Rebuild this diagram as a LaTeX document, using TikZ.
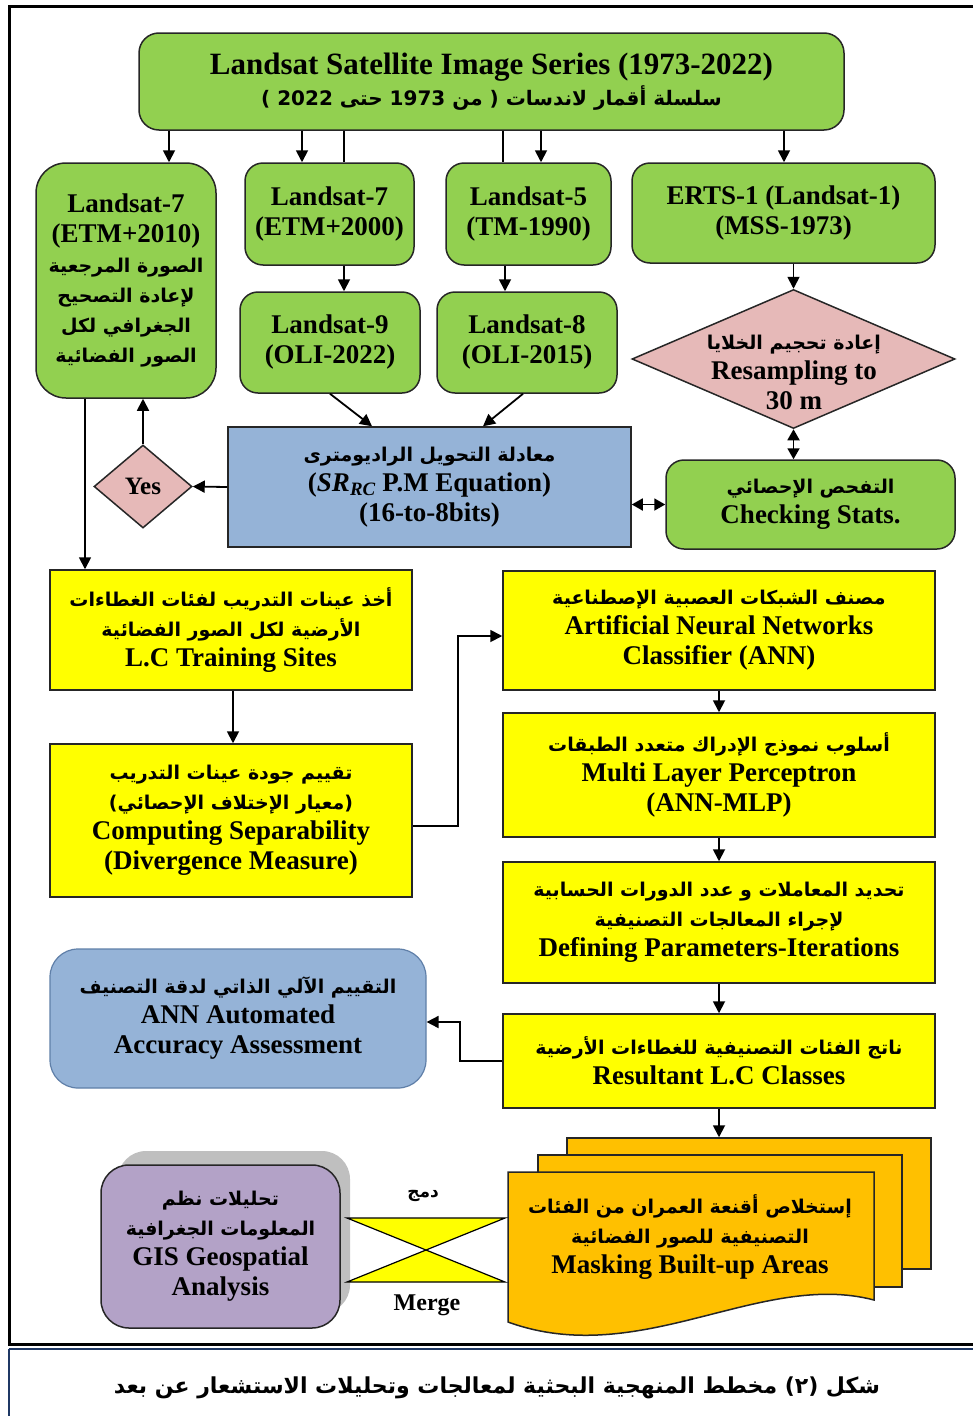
\documentclass[tikz,border=0pt]{standalone}
\usepackage{fontspec}
\usetikzlibrary{shapes.geometric,arrows.meta}
\setmainfont{Liberation Serif}
\newfontfamily\arfont[Script=Arabic]{DejaVu Sans}
\TeXXeTstate=1
\newcommand\AR[1]{{\arfont\bfseries\fontsize{19}{30}\selectfont\beginR #1\endR}}
\newcommand\NUM[1]{\beginL #1\endL{}}
\definecolor{gfill}{HTML}{92D050}
\definecolor{pinkf}{HTML}{E6B9B8}
\definecolor{bluef}{HTML}{95B3D7}
\definecolor{yelf}{HTML}{FFFF00}
\definecolor{orangef}{HTML}{FFC000}
\definecolor{purplef}{HTML}{B3A2C7}
\definecolor{shadowf}{HTML}{BFBFBF}
\definecolor{navyl}{HTML}{1F3864}
\definecolor{accdraw}{HTML}{5F7FA8}
\tikzset{
  every node/.style={align=center, inner sep=0pt, font=\bfseries\fontsize{27}{30}\selectfont},
  bx/.style={draw=black!85, line width=1.5pt},
  gbox/.style={bx, fill=gfill, rounded corners=18pt},
  ybox/.style={bx, fill=yelf},
  dbox/.style={bx, fill=pinkf, diamond},
  sheet/.style={bx, fill=orangef},
  arr/.style={line width=1.8pt, -{Triangle[length=12pt,width=12pt]}},
  darr/.style={line width=1.8pt, {Triangle[length=11pt,width=12pt]}-{Triangle[length=11pt,width=12pt]}},
  ln/.style={line width=1.8pt},
}
\begin{document}
\begin{tikzpicture}[x=1pt,y=-1pt]
\useasboundingbox (0,0) rectangle (972,1416);
% frame
\draw[line width=3pt] (985,6) -- (9,6) -- (9,1344) -- (985,1344);
\draw[line width=2pt, navyl] (9,1349) -- (985,1349);
\draw[line width=1.5pt, navyl] (9,1349) -- (9,1425);
% top
\node[gbox, rounded corners=20pt, minimum width=705, minimum height=97, font=\bfseries\fontsize{31}{31}\selectfont] (top) at (491.5,81.5)
  {Landsat Satellite Image Series (1973-2022)\\ {\arfont\bfseries\fontsize{20}{30}\selectfont\beginR سلسلة أقمار لاندسات ( من \NUM{1973} حتى \NUM{2022} )\endR}};
% row 1
\node[gbox, rounded corners=30pt, minimum width=180, minimum height=235] (left) at (126,280.5)
  {Landsat-7\\(ETM+2010)\\ \AR{الصورة المرجعية}\\ \AR{لإعادة التصحيح}\\ \AR{الجغرافي لكل}\\ \AR{الصور الفضائية}};
\node[gbox, minimum width=169, minimum height=102] (l7b) at (329.5,214) {Landsat-7\\(ETM+2000)};
\node[gbox, minimum width=165, minimum height=102] (l5) at (528.5,214) {Landsat-5\\(TM-1990)};
\node[gbox, minimum width=303, minimum height=100] (erts) at (783.5,213) {ERTS-1 (Landsat-1)\\(MSS-1973)};
% row 2
\node[gbox, minimum width=180, minimum height=101] (l9) at (330,342.5) {Landsat-9\\(OLI-2022)};
\node[gbox, minimum width=180, minimum height=101] (l8) at (527,342.5) {Landsat-8\\(OLI-2015)};
\node[dbox, minimum width=323, minimum height=139] (dia) at (793.5,359) {};
\node (diatext) at (794,372) {\AR{إعادة تحجيم الخلايا}\\Resampling to\\30 m};
% row 3
\node[bx, fill=bluef, minimum width=403, minimum height=120] (blue) at (429.5,487)
  {\AR{معادلة التحويل الراديومترى}\\(\textit{SR\textsubscript{RC}} P.M Equation)\\(16-to-8bits)};
\node[dbox, minimum width=98, minimum height=83, font=\bfseries\fontsize{25}{28}\selectfont] (yes) at (143,486.5) {Yes};
\node[gbox, minimum width=289, minimum height=89] (check) at (810.5,504.5) {\AR{التفحص الإحصائي}\\Checking Stats.};
% left yellow column
\node[ybox, minimum width=362, minimum height=120] (train) at (231,630)
  {\AR{أخذ عينات التدريب لفئات الغطاءات}\\ \AR{الأرضية لكل الصور الفضائية}\\L.C Training Sites};
\node[ybox, minimum width=362, minimum height=153] (sep) at (231,820.5)
  {\AR{تقييم جودة عينات التدريب}\\ \AR{(معيار الإختلاف الإحصائي)}\\Computing Separability\\(Divergence Measure)};
% right yellow column
\node[ybox, minimum width=432, minimum height=119] (ann) at (719,630.5)
  {\AR{مصنف الشبكات العصبية الإصطناعية}\\Artificial Neural Networks\\Classifier (ANN)};
\node[ybox, minimum width=432, minimum height=124] (mlp) at (719,775)
  {\AR{أسلوب نموذج الإدراك متعدد الطبقات}\\Multi Layer Perceptron\\(ANN-MLP)};
\node[ybox, minimum width=432, minimum height=121] (def) at (719,922.5)
  {\AR{تحديد المعاملات و عدد الدورات الحسابية}\\ \AR{لإجراء المعالجات التصنيفية}\\Defining Parameters-Iterations};
\node[ybox, minimum width=432, minimum height=94] (res) at (719,1061)
  {\AR{ناتج الفئات التصنيفية للغطاءات الأرضية}\\Resultant L.C Classes};
\node[draw=accdraw, line width=1.2pt, fill=bluef, rounded corners=28pt, minimum width=376, minimum height=139] (acc) at (238,1018.5)
  {\AR{التقييم الآلي الذاتي لدقة التصنيف}\\ANN Automated\\Accuracy Assessment};
% GIS
\node[fill=shadowf, rounded corners=28pt, minimum width=232, minimum height=162] (gisshadow) at (234,1232) {};
\node[bx, fill=purplef, rounded corners=28pt, minimum width=239, minimum height=163] (gis) at (220.5,1246.5)
  {\AR{تحليلات نظم}\\ \AR{المعلومات الجغرافية}\\GIS Geospatial\\Analysis};
% documents
\node[sheet, minimum width=364, minimum height=131] (back) at (749,1203.5) {};
\node[sheet, minimum width=364, minimum height=132] (mid) at (720,1221) {};
\draw[bx, fill=orangef] (508,1172) -- (874,1172) -- (874,1300) .. controls (760,1270) and (640,1370) .. (508,1322) -- cycle;
\node (doctext) at (690,1237) {\AR{إستخلاص أقنعة العمران من الفئات}\\ \AR{التصنيفية للصور الفضائية}\\Masking Built-up Areas};
% merge
\draw[line width=1.2pt, fill=yelf] (347,1218) -- (505,1218) -- (347,1282) -- (505,1282) -- cycle;
\node (dmj) at (423,1196) {{\arfont\bfseries\fontsize{17}{20}\selectfont\beginR دمج\endR}};
\node[font=\bfseries\fontsize{24}{26}\selectfont] (merge) at (427,1305) {Merge};
% caption
\node (cap) at (497,1388) {{\arfont\bfseries\fontsize{22}{28}\selectfont\beginR شكل (٢) مخطط المنهجية البحثية لمعالجات وتحليلات الاستشعار عن بعد\endR}};
% connectors
\draw[arr] (169,0 |- top.south) -- (169,0 |- left.north);
\draw[arr] (302,0 |- top.south) -- (302,0 |- l7b.north);
\draw[ln] (344,0 |- top.south) -- (344,0 |- l7b.north);
\draw[ln] (503,0 |- top.south) -- (503,0 |- l5.north);
\draw[arr] (541,0 |- top.south) -- (541,0 |- l5.north);
\draw[arr] (784,0 |- top.south) -- (784,0 |- erts.north);
\draw[arr] (344,0 |- l7b.south) -- (344,0 |- l9.north);
\draw[arr] (505,0 |- l5.south) -- (505,0 |- l8.north);
\draw[arr] (dia.north |- erts.south) -- (dia.north);
\draw[arr] (330,0 |- l9.south) -- (372,0 |- blue.north);
\draw[arr] (523,0 |- l8.south) -- (483,0 |- blue.north);
\draw[darr] (dia.south) -- (dia.south |- check.north);
\draw[darr] (blue.east |- check.west) -- (check.west);
\draw[arr] (blue.west) -- (yes.east);
\draw[arr] (yes.north) -- (143,0 |- left.south);
\draw[arr] (85,0 |- left.south) -- (85,0 |- train.north);
\draw[arr] (233,0 |- train.south) -- (233,0 |- sep.north);
\draw[arr] (sep.east |- 0,826) -- (458,826) |- (ann.west |- 0,636);
\draw[arr] (719,0 |- ann.south) -- (719,0 |- mlp.north);
\draw[arr] (719,0 |- mlp.south) -- (719,0 |- def.north);
\draw[arr] (719,0 |- def.south) -- (719,0 |- res.north);
\draw[arr] (res.west) -- (460,0 |- res.west) |- (acc.east |- 0,1022);
\draw[arr] (719,0 |- res.south) -- (719,0 |- back.north);
\end{tikzpicture}
\end{document}
